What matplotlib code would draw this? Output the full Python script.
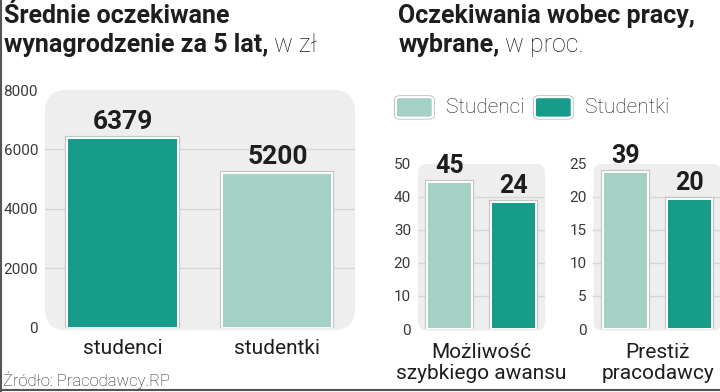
import matplotlib.pyplot as plt
import matplotlib.patheffects as pe
from matplotlib.patches import FancyBboxPatch
from matplotlib.lines import Line2D

# Left chart: average expected salary after 5 years (PLN)
salary_cats = ["studenci", "studentki"]
salary_vals = [6379, 5200]
salary_labels = ["6379", "5200"]

# Right charts: job expectations (%)
groups = ["Studenci", "Studentki"]
promo_heights = [44.5, 38.5]   # bar heights as drawn
promo_labels = ["45", "24"]    # printed values
prestige_heights = [23.7, 19.7]
prestige_labels = ["39", "20"]

DARK = "#179b8a"
LIGHT = "#a4d0c5"
BG = "#eeeeee"
GRID = "#d6d6d6"
TXT = "#1e1e1e"

plt.rcParams["font.family"] = ["Roboto", "DejaVu Sans"]

fig = plt.figure(figsize=(7.2, 3.92), dpi=100)

bar_fx = [pe.withStroke(linewidth=3.0, foreground="#c4c4c4")]


def style_axes(ax, ymax, step, tick_size):
    ax.set_ylim(0, ymax)
    ax.set_xlim(-0.5, 1.5)
    for s in ax.spines.values():
        s.set_visible(False)
    ax.set_xticks([])
    ax.set_yticks(range(0, ymax + 1, step))
    ax.tick_params(axis="y", length=0, pad=5, labelsize=tick_size, labelcolor="#3a3a3a")
    ax.patch.set_visible(False)
    # rounded background panel
    pos = ax.get_position()
    bg = FancyBboxPatch((0, -0.01), 1, 1.01, boxstyle="round,pad=0,rounding_size=0.07",
                        transform=ax.transAxes, facecolor=BG, edgecolor="none",
                        mutation_aspect=pos.width * 7.2 / (pos.height * 3.92),
                        zorder=0, clip_on=False)
    ax.add_patch(bg)
    for v in range(step, ymax, step):
        ax.axhline(v, color=GRID, lw=1, zorder=1)


def draw_bars(ax, heights, colors, labels, lab_size, width=0.71):
    bars = ax.bar([0, 1], heights, width=width, color=colors, edgecolor="white",
                  linewidth=1.4, zorder=3)
    for b in bars:
        b.set_path_effects(bar_fx + [pe.Normal()])
    for b, lab in zip(bars, labels):
        ax.annotate(lab, (b.get_x() + b.get_width() / 2, b.get_height()),
                    xytext=(0, 3), textcoords="offset points", ha="center", va="bottom",
                    fontsize=lab_size, fontweight="bold", color=TXT, zorder=4,
                    clip_on=False)


# left panel
ax1 = fig.add_axes([0.0625, 0.1633, 0.4305, 0.6071])
style_axes(ax1, 8000, 2000, 11)
draw_bars(ax1, salary_vals, [DARK, LIGHT], salary_labels, 19)
for i, c in enumerate(salary_cats):
    ax1.text(i, -0.045, c, transform=ax1.get_xaxis_transform(), ha="center", va="top",
             fontsize=15, color=TXT)

# right panels
ax2 = fig.add_axes([0.5806, 0.1607, 0.1764, 0.4213])
style_axes(ax2, 50, 10, 11)
draw_bars(ax2, promo_heights, [LIGHT, DARK], promo_labels, 18)
ax2.text(0.5, -0.085, "Możliwość\nszybkiego awansu", transform=ax2.get_xaxis_transform(),
         ha="center", va="top", fontsize=15, color=TXT, linespacing=1.1)

ax3 = fig.add_axes([0.8243, 0.1607, 0.1778, 0.4213])
style_axes(ax3, 25, 5, 11)
draw_bars(ax3, prestige_heights, [LIGHT, DARK], prestige_labels, 18)
ax3.text(0.5, -0.085, "Prestiż\npracodawcy", transform=ax3.get_xaxis_transform(),
         ha="center", va="top", fontsize=15, color=TXT, linespacing=1.1)

# titles
TS = 18
fig.text(0.006, 0.958, "Średnie oczekiwane", fontsize=TS, fontweight="bold",
         color=TXT, va="center")
t = fig.text(0.006, 0.885, "wynagrodzenie za 5 lat,", fontsize=TS, fontweight="bold",
             color=TXT, va="center")
fig.canvas.draw()
bb = t.get_window_extent()
fig.text(bb.x1 / fig.bbox.width + 0.007, 0.885, "w zł", fontsize=TS, fontweight="light",
         color=TXT, va="center")

fig.text(0.553, 0.958, "Oczekiwania wobec pracy,", fontsize=TS, fontweight="bold",
         color=TXT, va="center")
t2 = fig.text(0.553, 0.885, "wybrane,", fontsize=TS, fontweight="bold", color=TXT, va="center")
fig.canvas.draw()
bb2 = t2.get_window_extent()
fig.text(bb2.x1 / fig.bbox.width + 0.007, 0.885, "w proc.", fontsize=TS, fontweight="light",
         color=TXT, va="center")

# legend
for x0, col, name in [(0.552, LIGHT, groups[0]), (0.745, DARK, groups[1])]:
    fig.patches.append(FancyBboxPatch((x0, 0.702), 0.047, 0.048,
                                      boxstyle="round,pad=0.002,rounding_size=0.006",
                                      transform=fig.transFigure, facecolor=col,
                                      edgecolor="white", linewidth=1.4,
                                      path_effects=bar_fx + [pe.Normal()]))
    fig.text(x0 + 0.068, 0.726, name, fontsize=15, fontweight="light", color=TXT,
             va="center")

# source
fig.text(0.004, 0.03, "Źródło: Pracodawcy.RP", fontsize=12, fontweight="light",
         color=TXT, va="center")

# frame lines
fig.add_artist(Line2D([0.0015, 0.0015], [0, 1], transform=fig.transFigure, color="#555555", lw=1.5))
fig.add_artist(Line2D([0, 1], [0.006, 0.006], transform=fig.transFigure, color="#555555", lw=1.5))

fig.savefig("out.png", dpi=100)
